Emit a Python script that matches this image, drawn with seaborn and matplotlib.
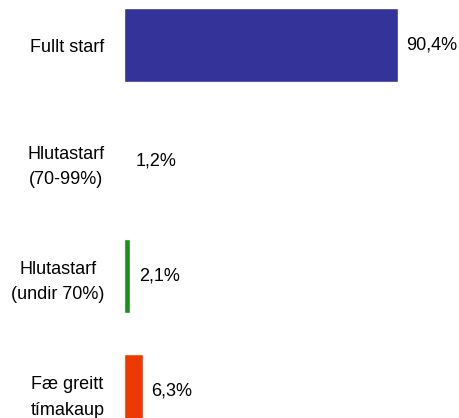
import matplotlib
matplotlib.use("Agg")
import matplotlib.pyplot as plt
import numpy as np
import pandas as pd
import seaborn as sns

sns.set_style("white")
plt.rcParams['font.family'] = ['Liberation Sans', 'DejaVu Sans']

categories = ["Fullt starf", "Hlutastarf\n(70-99%)", "Hlutastarf\n(undir 70%)", "Fæ greitt\ntímakaup"]
values = [90.4, 1.2, 2.1, 6.3]
value_labels = ["90,4%", "1,2%", "2,1%", "6,3%"]
colors = ["#333399", "#FFFFFF", "#1E8C1E", "#EE3A00"]

df = pd.DataFrame({"cat": categories, "val": values})

W, H = 459, 418
fig = plt.figure(figsize=(W / 100, H / 100), dpi=100)
ax = fig.add_axes([124 / W, 0, 303 / W, 1])

sns.barplot(data=df, x="val", y="cat", hue="cat", palette=colors, orient="h",
            width=0.64, legend=False, ax=ax, saturation=1)

ax.set_xlim(0, 100)
ax.set_ylim(3.23, -0.39)
for s in ax.spines.values():
    s.set_visible(False)
ax.set_xticks([])
ax.set_xlabel("")
ax.set_ylabel("")
ax.tick_params(axis="y", length=0, pad=14, labelsize=13, labelcolor="black")
for t in ax.get_yticklabels():
    t.set_multialignment("center")
    t.set_linespacing(1.65)

for cont, lab in zip(ax.containers, value_labels):
    ax.bar_label(cont, labels=[lab], padding=6, fontsize=13, color="black")

fig.savefig("out.png", dpi=100)
